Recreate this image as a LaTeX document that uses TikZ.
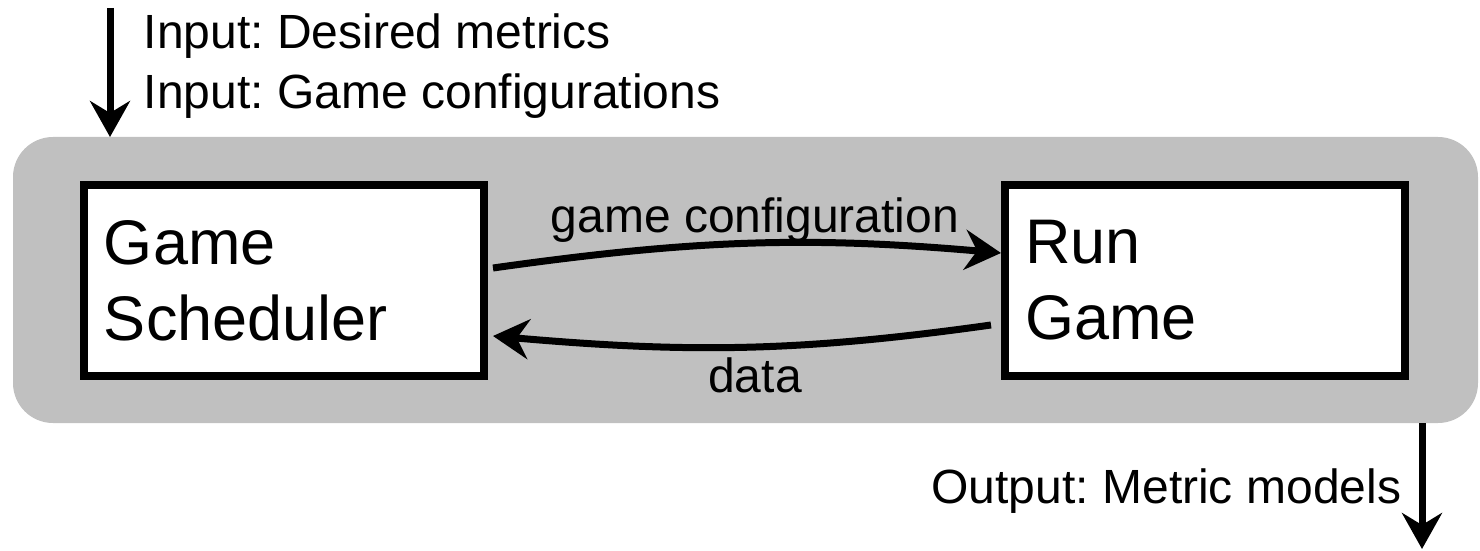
\documentclass[tikz,border=0pt]{standalone}
\usepackage{fontspec}
\setmainfont{Liberation Sans}
\frenchspacing
\usetikzlibrary{arrows.meta}
\definecolor{panelgray}{RGB}{192,192,192}
\tikzstyle{panel}=[rectangle,fill=panelgray,rounded corners=20pt,inner sep=0pt,outer sep=0pt,minimum width=732.5pt,minimum height=143pt]
\tikzstyle{block}=[rectangle,draw,line width=4pt,fill=white,minimum width=200pt,minimum height=95.5pt,text width=180pt,inner xsep=10pt,align=left,font=\fontsize{31.5}{38}\selectfont]
\tikzstyle{note}=[inner sep=0pt,font=\fontsize{24}{29}\selectfont]
\tikzstyle{flow}=[draw,line width=3.5pt,-{Stealth[length=18pt,width=20pt,inset=6pt]}]

\begin{document}
\begin{tikzpicture}[x=0.5pt,y=0.5pt]
      \useasboundingbox (0,0) rectangle (1480,-551);
      \node[panel] (panel) at (745.5,-280) {};

      \node[block] (sched) at (284,-280.5) {Game\\Scheduler};
      \node[block] (run) at (1205,-280.5) {Run\\Game};

      \node[note,anchor=base west] (want) at (143.5,-49) {Input: Desired metrics};
      \node[note,anchor=base west] (conf) at (143.5,-109) {Input: Game configurations};
      \node[note,anchor=base east] (result) at (1401.5,-503) {Output: Metric models};
      \node[note,anchor=base] (cfg) at (755,-233) {game configuration};
      \node[note,anchor=base] (dat) at (755,-393) {data};

      \coordinate (src) at (110,-8);
      \coordinate (sink) at (1422,-549);
      \path[flow] (src) -- (src |- panel.north);
      \path[flow] (panel.south -| sink) -- (sink);

      \path[flow] ([shift={(2.5pt,6.25pt)}]sched.east) to[out=8,in=175] ([yshift=13.75pt]run.west);
      \path[flow] ([shift={(-5pt,-22.25pt)}]run.west) to[out=188,in=-5] ([shift={(2.5pt,-27.75pt)}]sched.east);

    \end{tikzpicture}
\end{document}
